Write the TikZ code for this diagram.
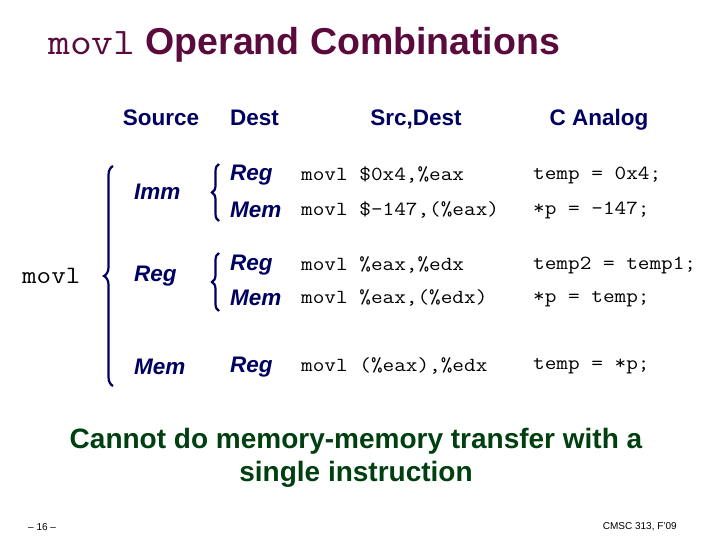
\documentclass[tikz,border=0pt]{standalone}
\usepackage{fontspec}
\setmainfont{Liberation Sans}
\setmonofont{Latin Modern Mono}[FakeStretch=1.13]
\usetikzlibrary{decorations.pathreplacing}
\definecolor{navy}{HTML}{000060}
\definecolor{maroon}{HTML}{5A0A3C}
\definecolor{dgreen}{HTML}{004010}
\begin{document}
\begin{tikzpicture}[x=1pt,y=-1pt,
  hd/.style={font=\fontsize{22.5}{25}\selectfont\bfseries, text=navy, inner sep=0},
  op/.style={font=\fontsize{22.5}{24}\selectfont\bfseries\itshape, text=navy, anchor=west, inner sep=0},
  code/.style={font=\fontsize{20}{22}\ttfamily, anchor=west, inner sep=0},
  br/.style={draw=navy, line width=2.2pt, decorate, decoration={brace, amplitude=9pt}}]
\fill[white] (0,0) rectangle (720,540);
\node[inner sep=0, anchor=west] (title) at (48,45) {\color{maroon}\fontsize{37.5}{40}\ttfamily movl\hspace{10pt}\fontsize{37.5}{40}\rmfamily\bfseries Operand Combinations};
\node[hd, anchor=base] (h1) at (161,126) {Source};
\node[hd, anchor=base west] (h2) at (230,126) {Dest};
\node[hd, anchor=base] (h3) at (416,126) {Src,Dest};
\node[hd, anchor=base] (h4) at (599,126) {C Analog};
\node[code, font=\fontsize{25}{27}\ttfamily] (mv) at (22,276) {movl};
\draw[br] (113,386) -- (113,166);
\node[op] (s1) at (134,192) {Imm};
\node[op] (s2) at (134,276) {Reg};
\node[op] (s3) at (134,367) {Mem};
\draw[br, decoration={brace, amplitude=7pt}] (219,221) -- (219,164);
\draw[br, decoration={brace, amplitude=7pt}] (219,311) -- (219,253);
\node[op] (d1) at (230,175) {Reg};
\node[op] (d2) at (230,210) {Mem};
\node[op] (d3) at (230,265) {Reg};
\node[op] (d4) at (230,298) {Mem};
\node[op] (d5) at (230,367) {Reg};
\node[code] (c1) at (301,175) {movl \$0x4,\%eax};
\node[code] (c2) at (301,210) {movl \$-147,(\%eax)};
\node[code] (c3) at (301,265) {movl \%eax,\%edx};
\node[code] (c4) at (301,298) {movl \%eax,(\%edx)};
\node[code] (c5) at (301,366) {movl (\%eax),\%edx};
\node[code] (a1) at (533,175) {temp = 0x4;};
\node[code] (a2) at (533,210) {*p = -147;};
\node[code] (a3) at (533,265) {temp2 = temp1;};
\node[code] (a4) at (533,299) {*p = temp;};
\node[code] (a5) at (533,366) {temp = *p;};
\node[font=\fontsize{28}{33}\selectfont\bfseries, text=dgreen, align=center] (note) at (356,458) {Cannot do memory-memory transfer with a\\single instruction};
\node[font=\fontsize{10}{11}\selectfont, anchor=west, inner sep=0] (pg) at (28,527) {– 16 –};
\node[font=\fontsize{10}{11}\selectfont, anchor=east, inner sep=0] (cr) at (677,527) {CMSC 313, F'09};
\end{tikzpicture}
\end{document}
